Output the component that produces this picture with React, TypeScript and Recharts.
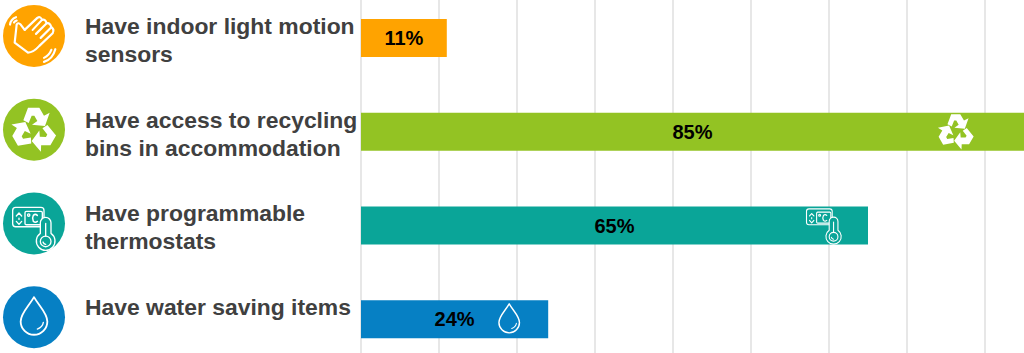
import React from "react";
import { BarChart, Bar, XAxis, YAxis, CartesianGrid, Cell, LabelList } from "recharts";

const categories = [
  "Have indoor light motion sensors",
  "Have access to recycling bins in accommodation",
  "Have programmable thermostats",
  "Have water saving items",
];
const labelLines = [
  ["Have indoor light motion", "sensors"],
  ["Have access to recycling", "bins in accommodation"],
  ["Have programmable", "thermostats"],
  ["Have water saving items"],
];
const values = [11, 85, 65, 24];
const colors = ["#FFA300", "#93C323", "#0AA598", "#0680C4"];
const iconKinds = ["hand", "recycle", "thermostat", "drop"];
const xTicks = [0, 10, 20, 30, 40, 50, 60, 70, 80];
// Distance of the small white icon from the end of each bar, its scale and vertical nudge
const barIconInset: (number | null)[] = [null, 68, 44, 39];
const barIconScale = [0, 0.8, 0.82, 0.77];
const barIconDy = [0, 0, -3.5, 0];

const rows = categories.map((name, i) => ({ name, value: values[i] }));

const arrowPoints =
  "70,74 84,36 118,36 132,60 149,51 135,91 96,87 112,76 103,60 95,60 86,82";

function Glyph({ kind, fill }: { kind: string; fill: string }) {
  if (kind === "hand") {
    return (
      <g fill="none" stroke="#fff" strokeWidth={6.5} strokeLinecap="round" strokeLinejoin="round">
        <path d="M74 84 L112 48 Q122 42 126 54 L98 84" />
        <path d="M126 54 Q136 50 140 64 L108 96" />
        <path d="M140 64 Q150 62 154 76 L122 108" />
        <path d="M154 76 Q164 82 158 94 L118 132 Q100 152 84 152 L44 122 L50 68 Q54 60 62 68 L74 84" />
        <path d="M30 68 Q32 52 48 46" />
        <path d="M42 62 Q44 58 50 56" />
        <path d="M132 180 Q158 172 166 142" />
        <path d="M132 168 Q148 160 154 144" />
      </g>
    );
  }
  if (kind === "recycle") {
    return (
      <g fill="#fff">
        {[0, 120, 240].map((a) => (
          <polygon key={a} points={arrowPoints} transform={`rotate(${a} 102 102)`} />
        ))}
      </g>
    );
  }
  if (kind === "thermostat") {
    return (
      <g fill="none" stroke="#fff" strokeWidth={4} strokeLinecap="round" strokeLinejoin="round">
        <rect x={38} y={54} width={94} height={58} rx={9} />
        <rect x={75} y={66} width={52} height={40} rx={4} />
        <path d="M49 80 L57 71 L65 80" />
        <path d="M49 96 L57 105 L65 96" />
        <path d="M57 86 L57 90" />
        <circle cx={86} cy={77} r={3.5} />
        <path d="M112 78 Q106 72 100 78 Q95 87 100 96 Q106 101 112 96" strokeWidth={4.5} />
        <path
          d="M121 132 L121 100 A16 16 0 0 1 153 100 L153 132 A28 28 0 1 1 121 132 Z"
          fill={fill}
        />
        <circle cx={137} cy={156} r={16} />
        <path d="M137 140 L137 102" />
        <path d="M129 158 Q131 164 137 165" />
      </g>
    );
  }
  return (
    <g fill="none" stroke="#fff" strokeWidth={5.5} strokeLinecap="round" strokeLinejoin="round">
      <path d="M102 42 C86 70 62 90 62 115 A40 40 0 0 0 142 115 C142 90 118 70 102 42 Z" />
      <path d="M112 138 Q128 132 130 118" strokeWidth={4} />
    </g>
  );
}

function Icon({ kind, fill, cx, cy, s = 1 }: { kind: string; fill: string; cx: number; cy: number; s?: number }) {
  return (
    <g transform={`translate(${cx} ${cy}) scale(${s / 3}) translate(-102 -102)`}>
      <Glyph kind={kind} fill={fill} />
    </g>
  );
}

function CategoryTick(props: any) {
  const { y, index } = props;
  const lines = labelLines[index] ?? [];
  return (
    <g>
      <circle cx={34} cy={y - 2} r={31} fill={colors[index]} />
      <Icon kind={iconKinds[index]} fill={colors[index]} cx={34} cy={y - 2} />
      {lines.map((line, i) => (
        <text
          key={line}
          x={85}
          y={y - 4 + i * 28}
          fontFamily="'Liberation Sans', Arial, sans-serif"
          fontWeight={700}
          fontSize={22.9}
          fill="#404040"
        >
          {line}
        </text>
      ))}
    </g>
  );
}

function BarLabel(props: any) {
  const { x, y, width, height, index, value } = props;
  const inset = barIconInset[index];
  const cy = y + height / 2;
  return (
    <g>
      <text
        x={x + width / 2}
        y={cy + 7}
        textAnchor="middle"
        fontFamily="'Liberation Sans', Arial, sans-serif"
        fontWeight={700}
        fontSize={20}
        fill="#000"
      >
        {`${value}%`}
      </text>
      {inset !== null && (
        <Icon
          kind={iconKinds[index]}
          fill={colors[index]}
          cx={x + width - inset}
          cy={cy + barIconDy[index]}
          s={barIconScale[index]}
        />
      )}
    </g>
  );
}

const EmptyTick = () => <g />;

export default function App() {
  return (
    <div style={{ position: "absolute", left: 0, top: 0, width: 1024, height: 353, overflow: "hidden", background: "#fff" }}>
      <div style={{ position: "absolute", left: 0, top: -9 }}>
        <BarChart
          width={1024}
          height={375}
          data={rows}
          layout="vertical"
          margin={{ top: 0, right: 0, bottom: 0, left: 0 }}
          barCategoryGap={0}
        >
          <CartesianGrid horizontal={false} vertical stroke="#CFCFCF" strokeWidth={1} verticalValues={xTicks} />
          <XAxis type="number" domain={[0, 85]} ticks={xTicks} height={0} tick={<EmptyTick />} tickLine={false} axisLine={false} interval={0} />
          <YAxis
            type="category"
            dataKey="name"
            width={361}
            interval={0}
            tick={<CategoryTick />}
            tickLine={false}
            axisLine={false}
          />
          <Bar dataKey="value" barSize={38} isAnimationActive={false}>
            {rows.map((r, i) => (
              <Cell key={r.name} fill={colors[i]} />
            ))}
            <LabelList dataKey="value" content={<BarLabel />} />
          </Bar>
        </BarChart>
      </div>
    </div>
  );
}
